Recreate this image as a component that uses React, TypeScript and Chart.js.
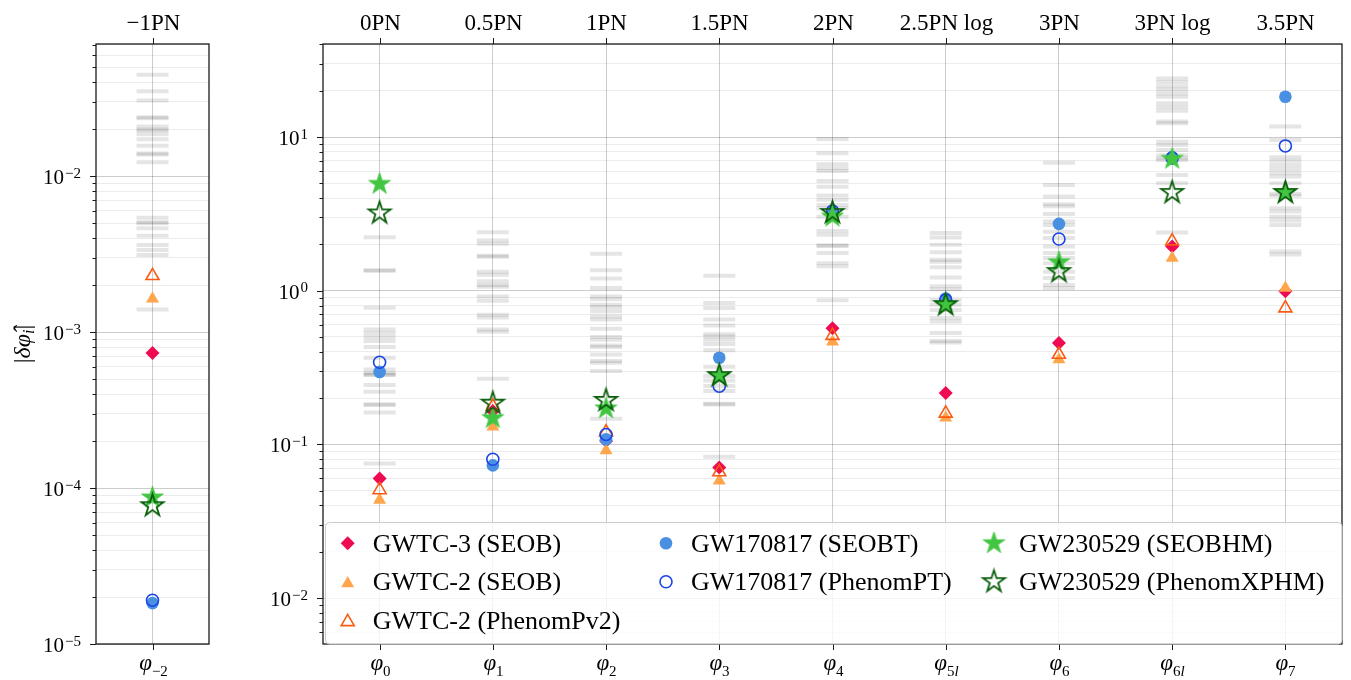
import React, { useEffect, useRef } from 'react';
import { Chart, registerables } from 'chart.js';
Chart.register(...registerables);

// ---------------- data ----------------
const coeffKeys = ['m2', 'p0', 'p1', 'p2', 'p3', 'p4', 'p5l', 'p6', 'p6l', 'p7'];
const pnOrderLabels = ['−1PN', '0PN', '0.5PN', '1PN', '1.5PN', '2PN', '2.5PN log', '3PN', '3PN log', '3.5PN'];
const coeffSubscripts = ['−2', '0', '1', '2', '3', '4', '5l', '6', '6l', '7'];

const gwtc3Seob = [7.36e-4, 0.060, 0.165, 0.105, 0.0706, 0.57, 0.216, 0.457, 1.94, 0.99];
const gwtc2Seob = [1.64e-3, 0.0435, 0.130, 0.0913, 0.058, 0.465, 0.149, 0.356, 1.63, 1.04];
const gwtc2Pv2 = [2.30e-3, 0.0505, 0.177, 0.12, 0.066, 0.51, 0.159, 0.384, 2.10, 0.77];
const gw170817Seobt = [1.83e-5, 0.296, 0.073, 0.108, 0.366, 3.3, 0.89, 2.72, 7.4, 18.3];
const gw170817Pt = [1.91e-5, 0.342, 0.080, 0.116, 0.239, 3.3, 0.87, 2.17, 7.3, 8.75];
const gw230529Seobhm = [8.7e-5, 4.95, 0.148, 0.171, 0.278, 3.03, 0.81, 1.53, 7.2, 4.35];
const gw230529Pxphm = [7.7e-5, 3.2, 0.185, 0.193, 0.28, 3.22, 0.81, 1.33, 4.35, 4.35];

// grey bands (other events) per coefficient
const ghostM2 = [0.0449, 0.0351, 0.0307, 0.0239, 0.0236, 0.0209, 0.0200, 0.0197, 0.0186, 0.0173, 0.0157, 0.0140, 0.0138, 0.0123, 0.00543, 0.00507, 0.00500, 0.00464, 0.00415, 0.00362, 0.00337, 0.00313, 0.00140];
const ghost0 = [2.23, 1.36, 1.35, 0.773, 0.558, 0.53, 0.50, 0.47, 0.43, 0.366, 0.307, 0.29, 0.285, 0.283, 0.243, 0.22, 0.182, 0.181, 0.161, 0.075];
const ghost1 = [2.40, 2.12, 2.02, 1.69, 1.66, 1.33, 1.27, 1.15, 1.09, 1.06, 0.918, 0.861, 0.698, 0.67, 0.558, 0.54, 0.267];
const ghost2 = [1.74, 1.36, 1.20, 1.04, 0.918, 0.88, 0.81, 0.78, 0.734, 0.68, 0.649, 0.566, 0.50, 0.48, 0.44, 0.43, 0.385, 0.348, 0.34, 0.30, 0.147];
const ghost3 = [1.25, 0.83, 0.77, 0.65, 0.593, 0.52, 0.503, 0.48, 0.45, 0.41, 0.32, 0.278, 0.26, 0.24, 0.222, 0.184, 0.182, 0.083];
const ghost4 = [9.7, 7.83, 6.66, 6.27, 6.0, 5.17, 4.75, 4.16, 3.90, 3.61, 3.44, 3.03, 2.45, 2.31, 1.97, 1.96, 1.76, 1.51, 1.44, 0.865];
const ghost5l = [2.37, 2.22, 1.99, 1.78, 1.59, 1.54, 1.42, 1.22, 1.07, 1.02, 0.87, 0.81, 0.75, 0.665, 0.63, 0.53, 0.47, 0.46];
const ghost6 = [6.81, 4.87, 4.10, 3.65, 3.54, 3.16, 2.82, 2.68, 2.42, 2.20, 1.94, 1.76, 1.63, 1.51, 1.33, 1.21, 1.09, 1.04];
const ghost6l = [24.0, 22.8, 21.4, 20.4, 19.2, 18.3, 16.6, 15.7, 14.8, 12.6, 12.3, 9.31, 8.87, 8.24, 7.6, 7.27, 7.09, 5.66, 5.0, 2.39];
const ghost7 = [11.7, 9.56, 7.38, 7.0, 6.58, 6.2, 5.81, 5.53, 5.0, 4.27, 4.14, 3.44, 3.27, 3.03, 2.86, 2.68, 1.80, 1.72];

const leftRange = [1e-5, 0.0706];
const rightRange = [0.00502, 40.3];
const leftDecades = [1e-5, 1e-4, 1e-3, 1e-2];
const rightDecades = [1e-2, 1e-1, 1, 10];

const legendLabels = [
  'GWTC-3 (SEOB)', 'GWTC-2 (SEOB)', 'GWTC-2 (PhenomPv2)',
  'GW170817 (SEOBT)', 'GW170817 (PhenomPT)',
  'GW230529 (SEOBHM)', 'GW230529 (PhenomXPHM)',
];

// ---------------- styling helpers ----------------
const SERIF = '"Liberation Serif", "DejaVu Serif", serif';
const C_DIAMOND = '#ee0b52';
const C_TRI = '#ffa64d';
const C_TRI_OPEN = '#fb5a12';
const C_CIRC = '#4a90e2';
const C_CIRC_OPEN = '#1a44e8';
const C_STAR = '#42c642';
const C_STAR_OPEN = '#0a5e0a';

function makeStar(R: number, fill: string | null, stroke: string, lw: number) {
  const size = Math.ceil(2 * R + lw * 2 + 2);
  const c = document.createElement('canvas');
  c.width = size; c.height = size;
  const g = c.getContext('2d')!;
  const cx = size / 2, cy = size / 2;
  const r = R * 0.381966;
  g.beginPath();
  for (let k = 0; k < 10; k++) {
    const rad = k % 2 === 0 ? R : r;
    const a = -Math.PI / 2 + (k * Math.PI) / 5;
    const px = cx + rad * Math.cos(a), py = cy + rad * Math.sin(a);
    if (k === 0) g.moveTo(px, py); else g.lineTo(px, py);
  }
  g.closePath();
  if (fill) { g.fillStyle = fill; g.fill(); }
  g.lineJoin = 'miter';
  g.strokeStyle = stroke; g.lineWidth = lw; g.stroke();
  return c;
}

type Run = [string, string, number];
function drawRuns(ctx: CanvasRenderingContext2D, runs: Run[], x: number, y: number, align: 'left' | 'center' | 'right') {
  let total = 0;
  const ws = runs.map((r) => { ctx.font = r[1]; const w = ctx.measureText(r[0]).width; total += w; return w; });
  let cx = align === 'left' ? x : align === 'center' ? x - total / 2 : x - total;
  ctx.textAlign = 'left';
  ctx.textBaseline = 'alphabetic';
  runs.forEach((r, i) => { ctx.font = r[1]; ctx.fillText(r[0], cx, y + r[2]); cx += ws[i]; });
}

function mantissaInfo(v: number) {
  if (!(v > 0)) return null;
  const e = Math.floor(Math.log10(v) + 1e-9);
  const m = v / Math.pow(10, e);
  const mr = Math.round(m);
  if (Math.abs(m - mr) > 1e-6) return null;
  return { e, m: mr };
}

const gridColor = (c: any) => {
  const info = mantissaInfo(c.tick ? c.tick.value : NaN);
  if (!info) return 'rgba(0,0,0,0)';
  return info.m === 1 ? 'rgba(0,0,0,0.2)' : 'rgba(0,0,0,0.075)';
};

function drawMarker(ctx: CanvasRenderingContext2D, kind: number, x: number, y: number, stars: HTMLCanvasElement[]) {
  ctx.save();
  ctx.beginPath();
  if (kind === 0) {
    const r = 7;
    ctx.moveTo(x - r, y); ctx.lineTo(x, y - r); ctx.lineTo(x + r, y); ctx.lineTo(x, y + r); ctx.closePath();
    ctx.fillStyle = C_DIAMOND; ctx.fill();
  } else if (kind === 1 || kind === 2) {
    const r = 7.5;
    const yy = y + r / 4;
    ctx.moveTo(x, yy - r);
    ctx.lineTo(x + r * Math.sin((2 * Math.PI) / 3), yy - r * Math.cos((2 * Math.PI) / 3));
    ctx.lineTo(x + r * Math.sin((4 * Math.PI) / 3), yy - r * Math.cos((4 * Math.PI) / 3));
    ctx.closePath();
    if (kind === 1) { ctx.fillStyle = C_TRI; ctx.fill(); }
    else { ctx.strokeStyle = C_TRI_OPEN; ctx.lineWidth = 1.6; ctx.stroke(); }
  } else if (kind === 3 || kind === 4) {
    ctx.arc(x, y, kind === 3 ? 6.3 : 6, 0, Math.PI * 2);
    if (kind === 3) { ctx.fillStyle = C_CIRC; ctx.fill(); }
    else { ctx.strokeStyle = C_CIRC_OPEN; ctx.lineWidth = 1.6; ctx.stroke(); }
  } else {
    const img = stars[kind - 5];
    ctx.drawImage(img, x - img.width / 2, y - img.height / 2);
  }
  ctx.restore();
}

type PanelProps = {
  idx: number[];
  ghosts: number[][];
  range: number[];
  decades: number[];
  left: number;
  width: number;
  yAxisW: number;
  padR: number;
  legend: boolean;
  ylabel: boolean;
};

function Panel(p: PanelProps) {
  const ref = useRef<HTMLCanvasElement | null>(null);
  useEffect(() => {
    const canvas = ref.current!;
    const keys = p.idx.map((i) => coeffKeys[i]);
    const pick = (arr: number[]) => p.idx.map((i) => arr[i]);
    const starFilled = makeStar(11.5, C_STAR, C_STAR, 0.8);
    const starOpen = makeStar(11.5, null, C_STAR_OPEN, 1.8);
    const stars = [starFilled, starOpen];

    const mk = (label: string, data: number[], style: any, radius: number, bg: string, border: string, bw: number, order: number) => ({
      type: 'line', label, data, showLine: false, pointStyle: style, pointRadius: radius, pointHoverRadius: radius,
      pointBackgroundColor: bg, pointBorderColor: border, pointBorderWidth: bw, pointHoverBorderWidth: bw, order,
    });

    const datasets: any[] = [];
    p.ghosts.forEach((g, gi) => {
      datasets.push({
        type: 'line', label: 'ghost' + gi, showLine: false,
        data: g.map((v) => ({ x: keys[gi], y: v })),
        pointStyle: 'line', pointRadius: 16, pointHoverRadius: 16,
        pointBorderColor: 'rgba(0,0,0,0.1)', pointBorderWidth: 4, pointHoverBorderWidth: 4,
        pointBackgroundColor: 'rgba(0,0,0,0)', order: 20,
      });
    });
    datasets.push(mk(legendLabels[0], pick(gwtc3Seob), 'rectRot', 7, C_DIAMOND, C_DIAMOND, 0, 6));
    datasets.push(mk(legendLabels[1], pick(gwtc2Seob), 'triangle', 7.5, C_TRI, C_TRI, 0, 5));
    datasets.push(mk(legendLabels[2], pick(gwtc2Pv2), 'triangle', 7.5, 'rgba(0,0,0,0)', C_TRI_OPEN, 1.6, 4));
    datasets.push(mk(legendLabels[3], pick(gw170817Seobt), 'circle', 6.3, C_CIRC, C_CIRC, 0, 3));
    datasets.push(mk(legendLabels[4], pick(gw170817Pt), 'circle', 6, 'rgba(0,0,0,0)', C_CIRC_OPEN, 1.6, 2));
    datasets.push(mk(legendLabels[5], pick(gw230529Seobhm), starFilled, 12, C_STAR, C_STAR, 0, 1));
    datasets.push(mk(legendLabels[6], pick(gw230529Pxphm), starOpen, 12, 'rgba(0,0,0,0)', C_STAR_OPEN, 0, 0));

    const decor = {
      id: 'decor',
      afterDraw(chart: any) {
        const ctx: CanvasRenderingContext2D = chart.ctx;
        const a = chart.chartArea;
        const xs = chart.scales.x;
        const ys = chart.scales.y;
        ctx.save();
        ctx.fillStyle = '#000';
        ctx.strokeStyle = '#1a1a1a';
        ctx.lineWidth = 1;
        // y ticks
        ys.ticks.forEach((t: any) => {
          const info = mantissaInfo(t.value);
          if (!info) return;
          const y = Math.round(ys.getPixelForValue(t.value)) + 0.5;
          if (y < a.top - 1 || y > a.bottom + 1) return;
          const len = info.m === 1 ? 6 : 3.5;
          ctx.beginPath(); ctx.moveTo(a.left - len, y); ctx.lineTo(a.left, y); ctx.stroke();
        });
        // y tick labels
        p.decades.forEach((v) => {
          const y = ys.getPixelForValue(v);
          const e = Math.round(Math.log10(v));
          const sup = e < 0 ? '−' + Math.abs(e) : String(e);
          ctx.font = `15px ${SERIF}`;
          const ws = ctx.measureText(sup).width;
          ctx.font = `21px ${SERIF}`;
          const w10 = ctx.measureText('10').width;
          const xEnd = a.left - 15;
          ctx.textAlign = 'left'; ctx.textBaseline = 'alphabetic';
          ctx.fillText('10', xEnd - ws - w10 - 1, y + 8);
          ctx.font = `15px ${SERIF}`;
          ctx.fillText(sup, xEnd - ws, y + 1.5);
        });
        // x ticks (top and bottom) and labels
        keys.forEach((_k, i) => {
          const x = Math.round(xs.getPixelForTick(i)) + 0.5;
          ctx.beginPath(); ctx.moveTo(x, a.bottom); ctx.lineTo(x, a.bottom + 6); ctx.stroke();
          ctx.beginPath(); ctx.moveTo(x, a.top - 6); ctx.lineTo(x, a.top); ctx.stroke();
          const gi = p.idx[i];
          ctx.font = `23px ${SERIF}`;
          ctx.textAlign = 'center'; ctx.textBaseline = 'alphabetic';
          ctx.fillText(pnOrderLabels[gi], x, a.top - 14);
          const sub = coeffSubscripts[gi];
          const runs: Run[] = [['φ', `italic 23px ${SERIF}`, 0]];
          for (const ch of sub) {
            runs.push([ch, ch === 'l' ? `italic 15px ${SERIF}` : `15px ${SERIF}`, 6]);
          }
          drawRuns(ctx, runs, x, a.bottom + 26, 'center');
        });
        // frame
        ctx.strokeStyle = '#1a1a1a';
        ctx.lineWidth = 1.3;
        ctx.strokeRect(a.left, a.top, a.right - a.left, a.bottom - a.top);
        // y axis label
        if (p.ylabel) {
          ctx.save();
          ctx.translate(30, 344);
          ctx.rotate(-Math.PI / 2);
          drawRuns(ctx, [
            ['|', `24px ${SERIF}`, 0],
            ['δ', `italic 24px ${SERIF}`, 0],
            ['φ̂', `italic 24px ${SERIF}`, 0],
            ['i', `italic 16px ${SERIF}`, 4],
            ['|', `24px ${SERIF}`, 0],
          ], 0, 0, 'center');
          ctx.restore();
        }
        // legend
        if (p.legend) {
          const bx = a.left + 2, by = a.bottom - 122, bw = a.right - a.left - 2.5, bh = 121.5;
          ctx.beginPath();
          (ctx as any).roundRect(bx + 0.5, by + 0.5, bw, bh, 4);
          ctx.fillStyle = 'rgba(255,255,255,0.8)';
          ctx.fill();
          ctx.strokeStyle = '#cccccc';
          ctx.lineWidth = 1;
          ctx.stroke();
          const colX = [a.left + 24.7, a.left + 343, a.left + 671];
          const rowY = [a.bottom - 100.7, a.bottom - 62.3, a.bottom - 24];
          const pos = [[0, 0], [0, 1], [0, 2], [1, 0], [1, 1], [2, 0], [2, 1]];
          legendLabels.forEach((lab, k) => {
            const cx = colX[pos[k][0]];
            const cy = rowY[pos[k][1]];
            drawMarker(ctx, k, cx, cy, stars);
            ctx.fillStyle = '#000';
            ctx.font = `26px ${SERIF}`;
            ctx.textAlign = 'left'; ctx.textBaseline = 'alphabetic';
            ctx.fillText(lab, cx + 25, cy + 8.7);
          });
        }
        ctx.restore();
      },
    };

    const chart = new Chart(canvas, {
      type: 'line',
      data: { labels: keys, datasets },
      options: {
        responsive: false,
        animation: false,
        events: [],
        layout: { autoPadding: false, padding: { top: 44, right: p.padR, left: 0, bottom: 0 } },
        plugins: { legend: { display: false }, tooltip: { enabled: false } },
        scales: {
          x: {
            type: 'category', labels: keys, offset: true,
            grid: { offset: false, color: 'rgba(0,0,0,0.2)', lineWidth: 1, drawTicks: false },
            border: { display: false },
            ticks: { display: false },
            afterFit: (s: any) => { s.height = 36; },
          },
          y: {
            type: 'logarithmic', min: p.range[0], max: p.range[1],
            grid: { color: gridColor, lineWidth: 1, drawTicks: false },
            border: { display: false },
            ticks: { display: false },
            afterFit: (s: any) => { s.width = p.yAxisW; },
          },
        },
      } as any,
      plugins: [decor],
    } as any);
    return () => chart.destroy();
  }, []);
  return (
    <canvas
      ref={ref}
      width={p.width}
      height={680}
      style={{ position: 'absolute', left: p.left, top: 0, width: p.width, height: 680 }}
    />
  );
}

export default function App() {
  return (
    <div style={{ position: 'fixed', left: 0, top: 0, width: 1351, height: 680, background: '#fff', overflow: 'hidden' }}>
      <Panel idx={[0]} ghosts={[ghostM2]} range={leftRange} decades={leftDecades} left={0} width={220} yAxisW={96} padR={11} legend={false} ylabel={true} />
      <Panel
        idx={[1, 2, 3, 4, 5, 6, 7, 8, 9]}
        ghosts={[ghost0, ghost1, ghost2, ghost3, ghost4, ghost5l, ghost6, ghost6l, ghost7]}
        range={rightRange}
        decades={rightDecades}
        left={220}
        width={1131}
        yAxisW={103}
        padR={9}
        legend={true}
        ylabel={false}
      />
    </div>
  );
}
